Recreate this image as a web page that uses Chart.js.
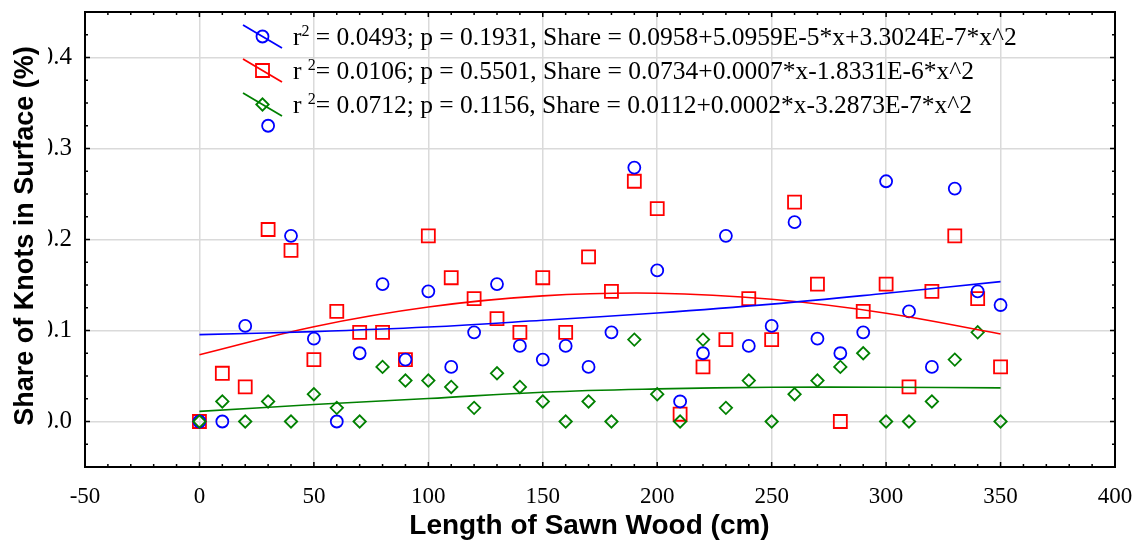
<!DOCTYPE html>
<html>
<head>
<meta charset="utf-8">
<script src="https://cdn.jsdelivr.net/npm/chart.js@4.4.0/dist/chart.umd.min.js"></script>
<style>
  html, body { margin: 0; padding: 0; background: #fff; }
  canvas { display: block; }
</style>
</head>
<body>
<canvas id="myChart" width="1139" height="545"></canvas>
<script>
// Lengths of sawn wood (cm)
const lengths = [0, 10, 20, 30, 40, 50, 60, 70, 80, 90, 100, 110, 120, 130, 140, 150, 160, 170,
  180, 190, 200, 210, 220, 230, 240, 250, 260, 270, 280, 290, 300, 310, 320, 330, 340, 350];

// Share of knots
const blueShare = [0, 0, 0.105, 0.325, 0.204, 0.091, 0, 0.075, 0.151, 0.068, 0.143, 0.060, 0.098,
  0.151, 0.083, 0.068, 0.083, 0.060, 0.098, 0.279, 0.166, 0.022, 0.075, 0.204, 0.083, 0.105,
  0.219, 0.091, 0.075, 0.098, 0.264, 0.121, 0.060, 0.256, 0.143, 0.128];
const redShare = [0, 0.053, 0.038, 0.211, 0.188, 0.068, 0.121, 0.098, 0.098, 0.068, 0.204, 0.158,
  0.135, 0.113, 0.098, 0.158, 0.098, 0.181, 0.143, 0.264, 0.234, 0.008, 0.060, 0.090, 0.135,
  0.090, 0.241, 0.151, 0, 0.121, 0.151, 0.038, 0.143, 0.204, 0.135, 0.060];
const greenShare = [0, 0.022, 0, 0.022, 0, 0.030, 0.015, 0, 0.060, 0.045, 0.045, 0.038, 0.015,
  0.053, 0.038, 0.022, 0, 0.022, 0, 0.090, 0.030, 0, 0.090, 0.015, 0.045, 0, 0.030, 0.045,
  0.060, 0.075, 0, 0, 0.022, 0.068, 0.098, 0];

// Fitted curves
const fitX = [0, 50, 100, 150, 200, 250, 300, 350];
const blueFit = [0.0955, 0.0988, 0.1038, 0.1112, 0.1193, 0.1290, 0.1409, 0.1537];
const redFit = [0.0734, 0.1042, 0.1258, 0.1380, 0.1410, 0.1343, 0.1190, 0.0962];
const greenFit = [0.0111, 0.0186, 0.0252, 0.0322, 0.0358, 0.0376, 0.0376, 0.0369];

// Tick labels
const xTicks = [-50, 0, 50, 100, 150, 200, 250, 300, 350, 400];
const yTicks = [0, 0.1, 0.2, 0.3, 0.4];

// Legend texts
const legendPrefix = ["r", "r ", "r "];
const legendText = [
  " = 0.0493; p = 0.1931, Share = 0.0958+5.0959E-5*x+3.3024E-7*x^2",
  "= 0.0106; p = 0.5501, Share = 0.0734+0.0007*x-1.8331E-6*x^2",
  "= 0.0712; p = 0.1156, Share = 0.0112+0.0002*x-3.2873E-7*x^2",
];

const BLUE = "#0000ff";
const RED = "#ff0000";
const GREEN = "#008000";
const GRID = "#dadada";
const SERIF = "'Liberation Serif', 'Times New Roman', serif";
const SANS = "'Liberation Sans', Arial, sans-serif";

const toPoints = (xs, ys) => xs.map((x, i) => ({ x: x, y: ys[i] }));

const markers = [
  { color: BLUE, style: "circle", radius: 6 },
  { color: RED, style: "rect", radius: 9.2 },
  { color: GREEN, style: "rectRot", radius: 6.2 },
];

// Frame, inward ticks, axis titles and legend
const framePlugin = {
  id: "frame",
  afterDraw(chart) {
    const ctx = chart.ctx;
    const a = chart.chartArea;
    const xs = chart.scales.x;
    const ys = chart.scales.y;
    ctx.save();

    // ticks
    ctx.strokeStyle = "#000";
    ctx.lineWidth = 1.5;
    ctx.beginPath();
    for (let v = -50; v <= 400; v += 10) {
      const px = xs.getPixelForValue(v);
      const len = v % 50 === 0 ? 5 : 3;
      ctx.moveTo(px, a.bottom); ctx.lineTo(px, a.bottom - len);
      ctx.moveTo(px, a.top); ctx.lineTo(px, a.top + len);
    }
    for (let k = -2; k <= 18; k++) {
      const v = k * 0.025;
      const py = ys.getPixelForValue(v);
      const len = k % 4 === 0 ? 5 : 3;
      ctx.moveTo(a.left, py); ctx.lineTo(a.left + len, py);
      ctx.moveTo(a.right, py); ctx.lineTo(a.right - len, py);
    }
    ctx.stroke();

    // frame
    ctx.lineWidth = 2;
    ctx.strokeRect(a.left, a.top, a.right - a.left, a.bottom - a.top);

    // left strip covers the tick labels partly, like the original
    ctx.fillStyle = "#fff";
    ctx.fillRect(0, 0, 48, chart.height);

    // axis titles
    ctx.fillStyle = "#000";
    ctx.font = "bold 27px " + SANS;
    ctx.textAlign = "center";
    ctx.textBaseline = "alphabetic";
    ctx.save();
    ctx.translate(33, 236);
    ctx.rotate(-Math.PI / 2);
    ctx.fillText("Share of Knots in Surface (%)", 0, 0);
    ctx.restore();
    ctx.font = "bold 28px " + SANS;
    ctx.fillText("Length of Sawn Wood (cm)", 589.5, 534);

    // legend
    ctx.textAlign = "left";
    for (let i = 0; i < 3; i++) {
      const yc = 36.5 + i * 34;
      const m = markers[i];
      ctx.strokeStyle = m.color;
      ctx.fillStyle = "rgba(0,0,0,0)";
      ctx.lineWidth = 1.8;
      ctx.beginPath();
      ctx.moveTo(243, yc - 11.5);
      ctx.lineTo(282, yc + 11.5);
      ctx.stroke();
      Chart.helpers.drawPoint(ctx, {
        pointStyle: m.style, radius: m.radius, rotation: 0, borderWidth: 1.8,
      }, 262.5, yc);

      let x = 293;
      const base = yc + 8.5;
      ctx.fillStyle = "#000";
      ctx.font = "25.5px " + SERIF;
      ctx.fillText(legendPrefix[i], x, base);
      x += ctx.measureText(legendPrefix[i]).width;
      ctx.font = "16px " + SERIF;
      ctx.fillText("2", x, base - 9);
      x += ctx.measureText("2").width;
      ctx.font = "25.5px " + SERIF;
      ctx.fillText(legendText[i], x, base);
    }
    ctx.restore();
  },
};

const scatterSet = (data, m, order) => ({
  data: data,
  showLine: false,
  pointStyle: m.style,
  pointRadius: m.radius,
  pointHoverRadius: m.radius,
  pointBorderWidth: 1.8,
  borderColor: m.color,
  backgroundColor: "rgba(0,0,0,0)",
  order: order,
});

const fitSet = (data, color) => ({
  data: data,
  showLine: true,
  tension: 0.4,
  pointRadius: 0,
  borderWidth: 1.6,
  borderColor: color,
  fill: false,
  order: 0,
});

const ctx = document.getElementById("myChart").getContext("2d");

const config = {
  type: "scatter",
  data: {
    datasets: [
      scatterSet(toPoints(lengths, greenShare), markers[2], 1),
      scatterSet(toPoints(lengths, blueShare), markers[0], 2),
      scatterSet(toPoints(lengths, redShare), markers[1], 3),
      fitSet(toPoints(fitX, blueFit), BLUE),
      fitSet(toPoints(fitX, redFit), RED),
      fitSet(toPoints(fitX, greenFit), GREEN),
    ],
  },
  options: {
    responsive: false,
    animation: false,
    devicePixelRatio: 1,
    layout: { padding: { top: 12, right: 24, left: 0, bottom: 0 } },
    plugins: { legend: { display: false }, tooltip: { enabled: false } },
    scales: {
      x: {
        type: "linear",
        min: -50,
        max: 400,
        afterBuildTicks: (s) => { s.ticks = xTicks.map((v) => ({ value: v })); },
        afterFit: (s) => { s.height = 78; s.paddingLeft = 0; s.paddingRight = 0; },
        grid: { color: GRID, lineWidth: 1.5, drawTicks: false },
        border: { display: false },
        ticks: {
          color: "#000",
          font: { family: SERIF, size: 23 },
          padding: 16,
          maxRotation: 0,
          autoSkip: false,
          callback: (v) => String(v),
        },
      },
      y: {
        type: "linear",
        min: -0.05,
        max: 0.45,
        afterBuildTicks: (s) => { s.ticks = yTicks.map((v) => ({ value: v })); },
        afterFit: (s) => { s.width = 85; s.paddingTop = 0; s.paddingBottom = 0; },
        grid: { color: GRID, lineWidth: 1.5, drawTicks: false },
        border: { display: false },
        ticks: {
          color: "#000",
          font: { family: SERIF, size: 25 },
          padding: 13,
          callback: (v) => v.toFixed(1),
        },
      },
    },
  },
  plugins: [framePlugin],
};

const myChart = new Chart(ctx, config);
</script>
</body>
</html>
